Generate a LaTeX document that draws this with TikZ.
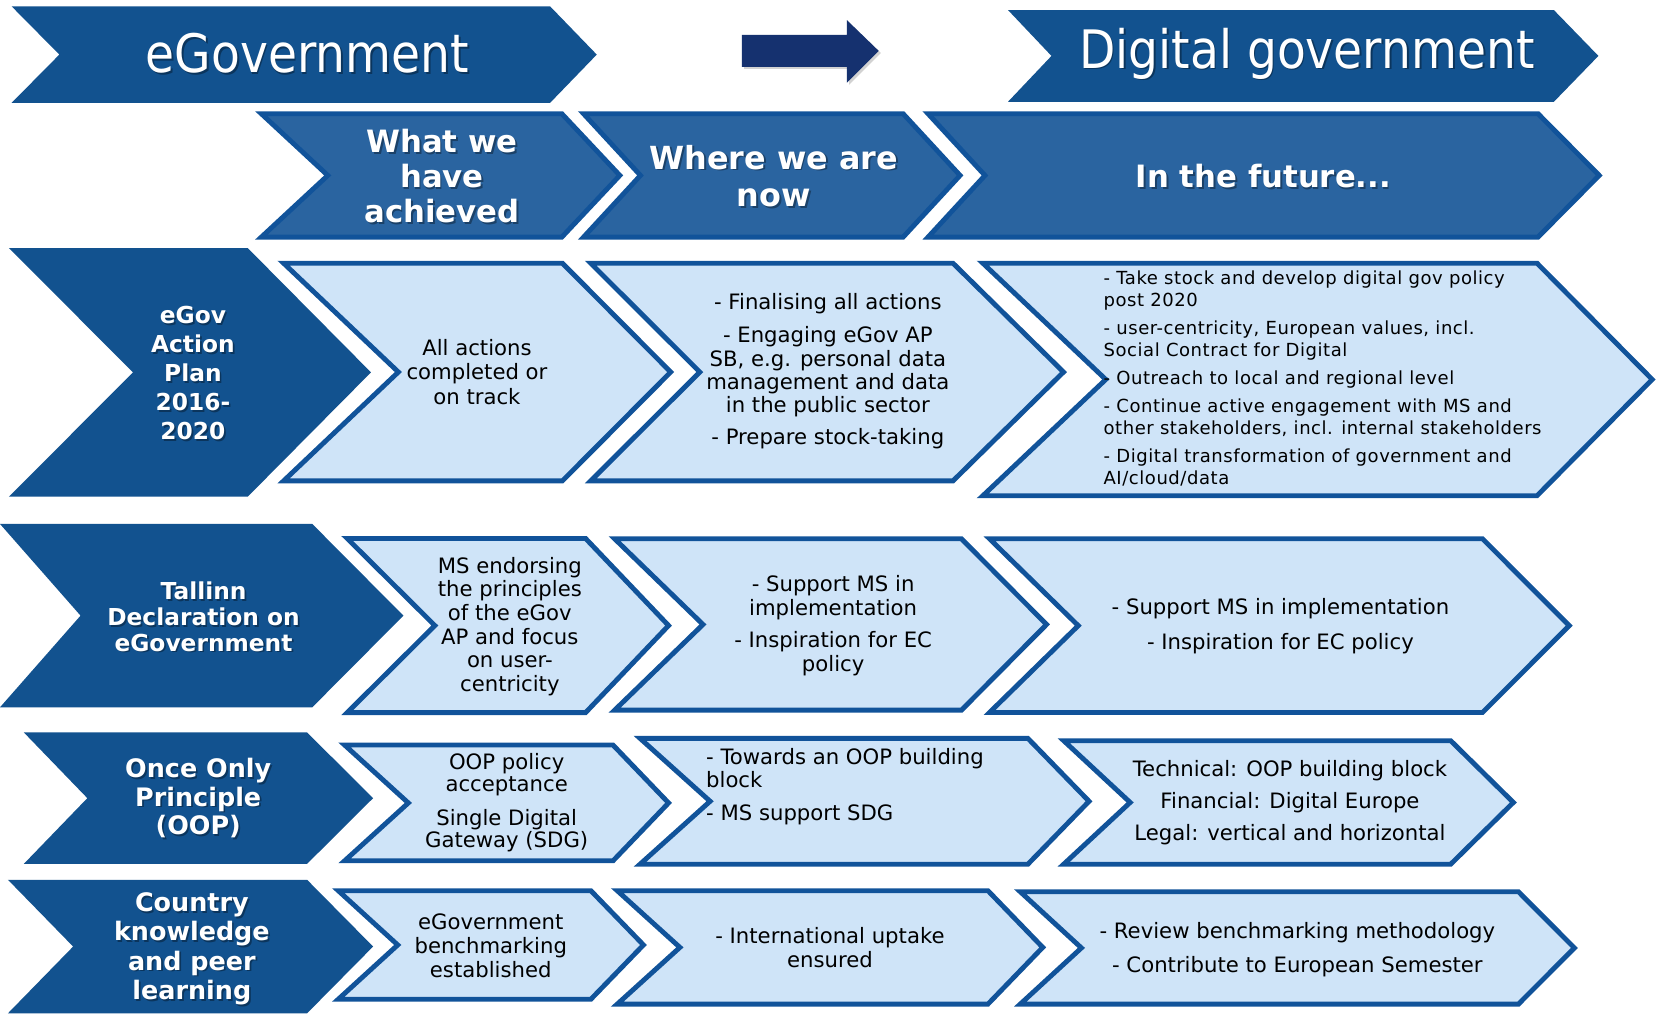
\documentclass[tikz,border=0pt]{standalone}
\usepackage{fontspec}
\setmainfont{DejaVu Sans}
\newfontfamily\titlefont[FakeStretch=0.89]{DejaVu Sans}
\newfontfamily\smallfont[LetterSpace=3]{DejaVu Sans}
\usetikzlibrary{shadows}
\definecolor{darkb}{HTML}{12528F}
\definecolor{headf}{HTML}{2A64A0}
\definecolor{bord}{HTML}{11539A}
\definecolor{lightf}{HTML}{CFE4F8}
\definecolor{arrowc}{HTML}{15316F}
% #1 style, #2 inset, #3 xl, #4 xn, #5 xr, #6 xt, #7 yt, #8 yb
\newcommand{\chev}[8]{%
  \path[#1] ({#3+2.41*#2},{#7+#2}) -- ({#5-0.41*#2},{#7+#2}) -- ({#6-1.41*#2},{(#7+#8)/2})
   -- ({#5-0.41*#2},{#8-#2}) -- ({#3+2.41*#2},{#8-#2}) -- ({#4+1.41*#2},{(#7+#8)/2}) -- cycle;}
% white label with a soft shadow: #1 name, #2 x, #3 y, #4 font, #5 text
\newcommand{\wlabel}[5]{%
  \node[shadowtext, font=#4] (#1s) at ({#2+1.6},{#3+1.6}) {#5};
  \node[labeltext, font=#4] (#1) at (#2,#3) {#5};}
\tikzset{
  darkchev/.style={fill=darkb},
  headchev/.style={fill=headf, draw=bord, line width=4.6pt, line join=miter},
  lightchev/.style={fill=lightf, draw=bord, line width=4.6pt, line join=miter},
  labeltext/.style={text=white, align=center, inner sep=0pt},
  shadowtext/.style={text=black, text opacity=0.35, align=center, inner sep=0pt},
  bodytext/.style={text=black, align=center, inner sep=0pt},
}
\begin{document}
\begin{tikzpicture}[x=1pt,y=-1pt]
\fill[white] (0,0) rectangle (1568,959);
\useasboundingbox (0,0) rectangle (1568,959);

% ---------- titles ----------
\chev{darkchev}{0}{11}{56}{519}{563}{6}{97}
\chev{darkchev}{0}{951}{992}{1466}{1508}{9.5}{96}
\wlabel{egov}{290}{50.5}{\titlefont\fontsize{50}{56}\selectfont}{eGovernment}
\wlabel{dig}{1233}{50.5}{\titlefont\fontsize{50}{56}\selectfont}{Digital government}
\fill[arrowc, drop shadow={opacity=0.35, shadow xshift=2pt, shadow yshift=-2pt}]
  (700,33) -- (799,33) -- (799,19) -- (829,48) -- (799,78) -- (799,63) -- (700,63) -- cycle;

% ---------- header row ----------
\chev{headchev}{2.3}{241}{306}{531}{588}{105}{226}
\chev{headchev}{2.3}{545}{601}{853}{909}{105}{226}
\chev{headchev}{2.3}{870}{926}{1452}{1512}{105}{226}
\wlabel{h1}{417}{166}{\bfseries\fontsize{29}{33}\selectfont}{What we\\have\\achieved}
\wlabel{h2}{730}{166}{\bfseries\fontsize{30}{35}\selectfont}{Where we are\\now}
\wlabel{h3}{1192}{166}{\bfseries\fontsize{29}{33}\selectfont}{In the future...}

% ---------- row: eGov Action Plan ----------
\chev{darkchev}{0}{8.4}{125.5}{233.7}{350}{234}{468.6}
\chev{lightchev}{2.3}{262}{372.6}{531.5}{636}{246}{456}
\chev{lightchev}{2.3}{551.7}{657}{900}{1006.6}{246}{456}
\chev{lightchev}{2.3}{921.7}{1040}{1451}{1562}{246}{470}
\wlabel{r1l}{182}{352}{\bfseries\fontsize{22}{27.4}\selectfont}{eGov\\Action\\Plan\\2016-\\2020}
\node[bodytext, font=\fontsize{20}{23}\selectfont] (r1a) at (450,351)
  {All actions\\completed or\\on track};
\node[bodytext, font=\fontsize{20}{22}\selectfont] (r1b) at (781,350)
  {- Finalising all actions\\[10pt]
   - Engaging eGov AP\\SB, e.g. personal data\\management and data\\in the public sector\\[8pt]
   - Prepare stock-taking};
\node[bodytext, align=left, anchor=west, font=\smallfont\fontsize{17}{20.5}\selectfont] (r1c) at (1041,357)
  {- Take stock and develop digital gov policy\\post 2020\\[6pt]
   - user-centricity, European values, incl.\\Social Contract for Digital\\[6pt]
   - Outreach to local and regional level\\[6pt]
   - Continue active engagement with MS and\\other stakeholders, incl. internal stakeholders\\[6pt]
   - Digital transformation of government and\\AI/cloud/data};

% ---------- row: Tallinn ----------
\chev{darkchev}{0}{0}{76}{294.6}{380.6}{494.3}{667.3}
\chev{lightchev}{2.3}{322}{407}{553.4}{634}{505.7}{674.6}
\chev{lightchev}{2.3}{574.3}{660}{908}{990.6}{506}{672.3}
\chev{lightchev}{2.3}{928}{1014}{1399.6}{1483.7}{506}{674.5}
\wlabel{r2l}{192}{582}{\bfseries\fontsize{22}{24.2}\selectfont}{Tallinn\\Declaration on\\eGovernment}
\node[bodytext, font=\fontsize{20}{22.3}\selectfont] (r2a) at (481,591)
  {MS endorsing\\the principles\\of the eGov\\AP and focus\\on user-\\centricity};
\node[bodytext, font=\fontsize{20}{22.5}\selectfont] (r2b) at (786,590)
  {- Support MS in\\implementation\\[8pt]- Inspiration for EC\\policy};
\node[bodytext, font=\fontsize{20}{33}\selectfont] (r2c) at (1208,591)
  {- Support MS in implementation\\- Inspiration for EC policy};

% ---------- row: Once Only ----------
\chev{darkchev}{0}{22.5}{82.4}{289.7}{352}{691}{815}
\chev{lightchev}{2.3}{319.6}{382}{579.3}{634}{700.6}{814.4}
\chev{lightchev}{2.3}{598.3}{666.7}{970.7}{1030.7}{694.3}{817.6}
\chev{lightchev}{2.3}{998}{1063}{1369.6}{1431}{696.5}{817.6}
\wlabel{r3l}{187}{753}{\bfseries\fontsize{24}{27}\selectfont}{Once Only\\Principle\\(OOP)}
\node[bodytext, font=\fontsize{20}{21}\selectfont] (r3a) at (478,757)
  {OOP policy\\acceptance\\[11pt]Single Digital\\Gateway (SDG)};
\node[bodytext, align=left, anchor=west, font=\fontsize{20}{22}\selectfont] (r3b) at (666,742)
  {- Towards an OOP building\\block\\[9pt]- MS support SDG};
\node[bodytext, font=\fontsize{20}{30}\selectfont] (r3c) at (1217,757)
  {Technical: OOP building block\\Financial: Digital Europe\\Legal: vertical and horizontal};

% ---------- row: Country knowledge ----------
\chev{darkchev}{0}{7.5}{69}{289.7}{352}{830}{956}
\chev{lightchev}{2.3}{313.6}{372}{558.4}{610.3}{838}{945}
\chev{lightchev}{2.3}{576.8}{638.2}{933}{987}{838}{949.6}
\chev{lightchev}{2.3}{957}{1017}{1433.5}{1488.6}{839}{949.6}
\wlabel{r4l}{181}{895}{\bfseries\fontsize{24}{27.7}\selectfont}{Country\\knowledge\\and peer\\learning}
\node[bodytext, font=\fontsize{20}{22.5}\selectfont] (r4a) at (463,892)
  {eGovernment\\benchmarking\\established};
\node[bodytext, font=\fontsize{20}{22}\selectfont] (r4b) at (783,894)
  {- International uptake\\ensured};
\node[bodytext, font=\fontsize{20}{32}\selectfont] (r4c) at (1224,896)
  {- Review benchmarking methodology\\- Contribute to European Semester};
\end{tikzpicture}
\end{document}
